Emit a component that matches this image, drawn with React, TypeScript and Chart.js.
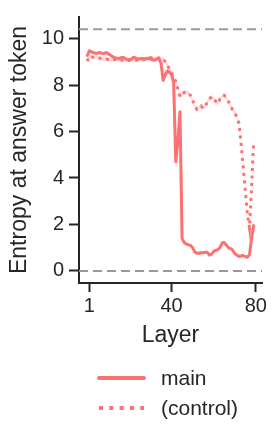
import React, { useEffect, useRef } from "react";
import { Chart, registerables } from "chart.js";

Chart.register(...registerables);

// Layer index (0-based) for 80 layers
const layers: number[] = Array.from({ length: 80 }, (_, i) => i);

const mainEntropy: number[] = [
  9.28, 9.48, 9.42, 9.4, 9.36, 9.38, 9.4, 9.36, 9.36, 9.4,
  9.34, 9.28, 9.22, 9.18, 9.15, 9.14, 9.18, 9.2, 9.14, 9.1,
  9.07, 9.12, 9.2, 9.16, 9.12, 9.13, 9.15, 9.12, 9.14, 9.15,
  9.12, 9.08, 9.07, 9.12, 9.14, 8.95, 8.2, 8.45, 8.6, 8.55,
  8.45, 8.1, 4.7, 5.6, 6.85, 1.4, 1.22, 1.16, 1.12, 1.1,
  1.0, 0.82, 0.76, 0.76, 0.78, 0.78, 0.8, 0.8, 0.68, 0.72,
  0.84, 0.88, 0.92, 1.0, 1.2, 1.22, 1.12, 1.0, 0.96, 0.9,
  0.75, 0.68, 0.62, 0.64, 0.66, 0.62, 0.59, 0.7, 1.4, 1.95,
];

const mainSpread: number[] = [
  0.06, 0.06, 0.06, 0.06, 0.06, 0.06, 0.06, 0.06, 0.06, 0.06,
  0.06, 0.06, 0.06, 0.06, 0.06, 0.06, 0.06, 0.06, 0.06, 0.06,
  0.06, 0.06, 0.06, 0.06, 0.06, 0.06, 0.06, 0.06, 0.06, 0.06,
  0.06, 0.06, 0.06, 0.06, 0.06, 0.08, 0.1, 0.1, 0.1, 0.1,
  0.12, 0.3, 0.4, 0.3, 0.2, 0.1, 0.06, 0.06, 0.06, 0.06,
  0.06, 0.06, 0.06, 0.06, 0.06, 0.06, 0.06, 0.06, 0.06, 0.06,
  0.06, 0.06, 0.06, 0.06, 0.06, 0.06, 0.06, 0.06, 0.06, 0.06,
  0.06, 0.06, 0.06, 0.06, 0.06, 0.06, 0.06, 0.06, 0.08, 0.08,
];

const controlEntropy: number[] = [
  9.03, 9.25, 9.22, 9.2, 9.2, 9.18, 9.16, 9.12, 9.11, 9.12,
  9.1, 9.08, 9.08, 9.1, 9.12, 9.08, 9.07, 9.08, 9.1, 9.08,
  9.07, 9.1, 9.08, 9.07, 9.08, 9.1, 9.07, 9.1, 9.12, 9.15,
  9.18, 9.15, 9.14, 9.15, 9.16, 9.15, 9.14, 9.0, 8.85, 8.7,
  8.55, 8.35, 8.15, 7.85, 7.5, 7.6, 7.68, 7.7, 7.68, 7.55,
  7.35, 7.1, 6.96, 7.05, 7.1, 7.0, 7.05, 7.3, 7.4, 7.5,
  7.4, 7.3, 7.2, 7.4, 7.52, 7.56, 7.45, 7.3, 7.1, 6.93,
  6.8, 6.62, 6.35, 5.5, 4.5, 3.5, 2.45, 1.85, 3.6, 5.6,
];

const controlSpread = 0.07;

const xTicks: number[] = [1, 40, 80];
const yTicks: number[] = [0, 2, 4, 6, 8, 10];
const refLines: number[] = [10.4, 0];
const xRange: [number, number] = [-3.95, 82.95];
const yRange: [number, number] = [-0.52, 10.93];

const seriesLabels = ["main", "(control)"];

const RED = "rgb(255,112,112)";
const BAND = "rgba(255,112,112,0.3)";
const AXIS = "#262626";
const FONT = "'Liberation Sans', Arial, Helvetica, sans-serif";

const pts = (ys: number[]) => layers.map((x, i) => ({ x, y: ys[i] }));

const legendPlugin = {
  id: "customLegend",
  afterDraw(chart: any) {
    const ctx = chart.ctx as CanvasRenderingContext2D;
    const xs = chart.scales.x;
    const left = chart.chartArea.left + 20;
    const top = xs.bottom + 25;
    const rowH = 30;
    const lineW = 45;
    ctx.save();
    ctx.font = `21px ${FONT}`;
    ctx.textBaseline = "middle";
    ctx.textAlign = "left";
    seriesLabels.forEach((label, k) => {
      const y = top + k * rowH;
      ctx.beginPath();
      ctx.strokeStyle = RED;
      if (k === 0) {
        ctx.lineWidth = 4;
        ctx.lineCap = "round";
        ctx.setLineDash([]);
      } else {
        ctx.lineWidth = 4;
        ctx.lineCap = "butt";
        ctx.setLineDash([4, 6.3]);
      }
      ctx.moveTo(left, y);
      ctx.lineTo(left + lineW, y);
      ctx.stroke();
      ctx.setLineDash([]);
      ctx.fillStyle = AXIS;
      ctx.fillText(label, left + lineW + 17, y + 1);
    });
    ctx.restore();
  },
};

export default function App() {
  const ref = useRef<HTMLCanvasElement | null>(null);

  useEffect(() => {
    if (!ref.current) return;
    Chart.defaults.font.family = FONT;
    const refData = refLines.map((v) => [
      { x: xRange[0], y: v },
      { x: xRange[1], y: v },
    ]);
    const chart = new Chart(ref.current, {
      type: "line",
      data: {
        datasets: [
          {
            label: seriesLabels[0],
            data: pts(mainEntropy),
            borderColor: RED,
            borderWidth: 3,
            borderJoinStyle: "round",
            borderCapStyle: "round",
            pointRadius: 0,
            fill: false,
          },
          {
            label: seriesLabels[1],
            data: pts(controlEntropy),
            borderColor: RED,
            borderWidth: 3,
            borderDash: [3, 4.5],
            pointRadius: 0,
            fill: false,
          },
          {
            label: "main_hi",
            data: pts(mainEntropy.map((v, i) => v + mainSpread[i])),
            borderWidth: 0,
            pointRadius: 0,
            backgroundColor: BAND,
            fill: 3,
          },
          {
            label: "main_lo",
            data: pts(mainEntropy.map((v, i) => v - mainSpread[i])),
            borderWidth: 0,
            pointRadius: 0,
            fill: false,
          },
          {
            label: "ctrl_hi",
            data: pts(controlEntropy.map((v) => v + controlSpread)),
            borderWidth: 0,
            pointRadius: 0,
            backgroundColor: BAND,
            fill: 5,
          },
          {
            label: "ctrl_lo",
            data: pts(controlEntropy.map((v) => v - controlSpread)),
            borderWidth: 0,
            pointRadius: 0,
            fill: false,
          },
          ...refData.map((d, k) => ({
            label: "ref" + k,
            data: d,
            borderColor: "#9a9a9a",
            borderWidth: 2,
            borderDash: [9, 5],
            pointRadius: 0,
            fill: false,
          })),
        ],
      },
      options: {
        animation: false,
        responsive: false,
        parsing: true,
        layout: { padding: { top: 12, right: 17, left: 0, bottom: 88 } },
        plugins: {
          legend: { display: false },
          tooltip: { enabled: false },
        },
        scales: {
          x: {
            type: "linear",
            min: xRange[0],
            max: xRange[1],
            afterBuildTicks: (s: any) => {
              s.ticks = xTicks.map((v) => ({ value: v }));
            },
            afterFit: (s: any) => {
              s.height = 70;
            },
            border: { display: true, color: AXIS, width: 2 },
            grid: {
              display: true,
              drawOnChartArea: false,
              drawTicks: true,
              tickLength: 9,
              tickWidth: 2,
              tickColor: AXIS,
            },
            ticks: {
              color: AXIS,
              font: { size: 20 },
              padding: 2,
              autoSkip: false,
              maxRotation: 0,
              callback: (v: any) => String(v),
            },
            title: {
              display: true,
              text: "Layer",
              color: AXIS,
              font: { size: 23 },
              padding: { top: 0, bottom: 4 },
            },
          },
          y: {
            type: "linear",
            min: yRange[0],
            max: yRange[1],
            afterBuildTicks: (s: any) => {
              s.ticks = yTicks.map((v) => ({ value: v }));
            },
            afterFit: (s: any) => {
              s.width = 79;
            },
            border: { display: true, color: AXIS, width: 2 },
            grid: {
              display: true,
              drawOnChartArea: false,
              drawTicks: true,
              tickLength: 10,
              tickWidth: 2,
              tickColor: AXIS,
            },
            ticks: {
              color: AXIS,
              font: { size: 20 },
              padding: 5,
              autoSkip: false,
              callback: (v: any) => String(v),
            },
            title: {
              display: true,
              text: "Entropy at answer token",
              color: AXIS,
              font: { size: 23 },
              padding: { top: 6, bottom: 0 },
            },
          },
        },
      },
      plugins: [legendPlugin],
    } as any);
    return () => chart.destroy();
  }, []);

  return (
    <div style={{ position: "fixed", left: 0, top: 0, width: 279, height: 441, background: "#fff" }}>
      <canvas ref={ref} width={279} height={441} style={{ width: 279, height: 441, display: "block" }} />
    </div>
  );
}
